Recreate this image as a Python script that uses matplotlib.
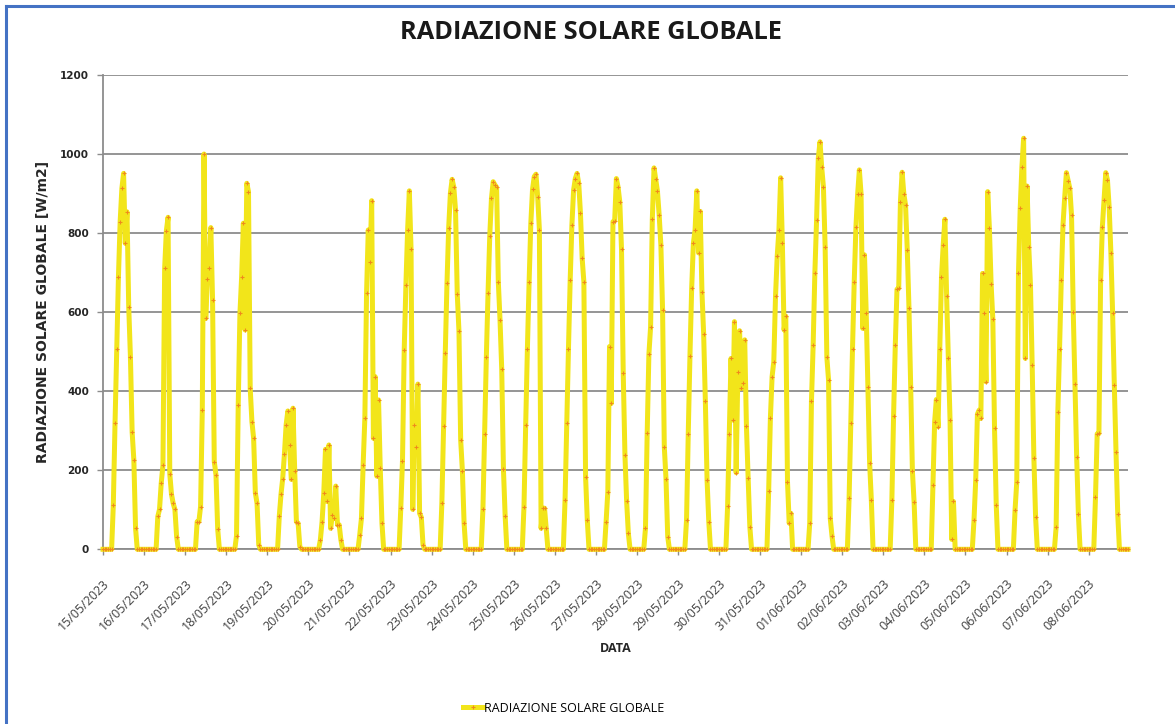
import matplotlib
matplotlib.use('Agg')
import matplotlib.pyplot as plt
from matplotlib.lines import Line2D
import numpy as np

title = 'RADIAZIONE SOLARE GLOBALE'

# date labels (one tick every 24 hourly readings)
dates = ['15/05/2023', '16/05/2023', '17/05/2023', '18/05/2023', '19/05/2023',
         '20/05/2023', '21/05/2023', '22/05/2023', '23/05/2023', '24/05/2023',
         '25/05/2023', '26/05/2023', '27/05/2023', '28/05/2023', '29/05/2023',
         '30/05/2023', '31/05/2023', '01/06/2023', '02/06/2023', '03/06/2023',
         '04/06/2023', '05/06/2023', '06/06/2023', '07/06/2023', '08/06/2023']

# hourly global radiation [W/m2], hours 0..23 of each day
d15_05 = [0, 0, 0, 0, 0, 0, 112, 319, 508, 690, 829, 913, 951, 774, 854, 614, 487, 297, 226, 53, 0, 0, 0, 0]
d16_05 = [0, 0, 0, 0, 0, 0, 0, 0, 83, 101, 167, 213, 711, 806, 840, 191, 139, 116, 101, 32, 0, 0, 0, 0]
d17_05 = [0, 0, 0, 0, 0, 0, 0, 70, 70, 108, 352, 1000, 584, 684, 712, 814, 631, 222, 188, 51, 0, 0, 0, 0]
d18_05 = [0, 0, 0, 0, 0, 0, 34, 365, 597, 690, 825, 555, 926, 905, 407, 323, 281, 143, 116, 11, 0, 0, 0, 0]
d19_05 = [0, 0, 0, 0, 0, 0, 0, 84, 139, 179, 241, 315, 350, 264, 177, 357, 199, 70, 66, 7, 0, 0, 0, 0]
d20_05 = [0, 0, 0, 0, 0, 0, 0, 24, 70, 143, 253, 121, 264, 53, 87, 78, 160, 62, 62, 24, 0, 0, 0, 0]
d21_05 = [0, 0, 0, 0, 0, 0, 36, 78, 213, 331, 648, 808, 728, 882, 281, 437, 185, 378, 205, 66, 0, 0, 0, 0]
d22_05 = [0, 0, 0, 0, 0, 0, 104, 224, 504, 669, 809, 907, 759, 101, 315, 260, 418, 91, 81, 11, 0, 0, 0, 0]
d23_05 = [0, 0, 0, 0, 0, 0, 116, 312, 497, 673, 814, 901, 936, 916, 858, 646, 552, 277, 199, 66, 0, 0, 0, 0]
d24_05 = [0, 0, 0, 0, 0, 0, 101, 292, 486, 649, 793, 888, 930, 922, 916, 677, 580, 455, 202, 84, 0, 0, 0, 0]
d25_05 = [0, 0, 0, 0, 0, 0, 108, 315, 508, 677, 825, 911, 943, 949, 892, 809, 53, 104, 104, 53, 0, 0, 0, 0]
d26_05 = [0, 0, 0, 0, 0, 0, 125, 319, 508, 681, 820, 909, 938, 951, 926, 850, 736, 677, 184, 74, 0, 0, 0, 0]
d27_05 = [0, 0, 0, 0, 0, 0, 70, 146, 513, 369, 829, 831, 938, 916, 879, 759, 447, 239, 121, 40, 0, 0, 0, 0]
d28_05 = [0, 0, 0, 0, 0, 53, 293, 493, 563, 835, 965, 936, 906, 846, 770, 605, 260, 178, 32, 0, 0, 0, 0, 0]
d29_05 = [0, 0, 0, 0, 0, 74, 292, 490, 660, 774, 809, 907, 750, 855, 652, 545, 374, 175, 70, 0, 0, 0, 0, 0]
d30_05 = [0, 0, 0, 0, 0, 109, 292, 483, 327, 576, 194, 448, 553, 407, 420, 530, 312, 180, 57, 0, 0, 0, 0, 0]
d31_05 = [0, 0, 0, 0, 0, 148, 331, 437, 475, 640, 742, 809, 940, 776, 555, 590, 171, 66, 91, 0, 0, 0, 0, 0]
d01_06 = [0, 0, 0, 0, 0, 66, 374, 517, 700, 833, 989, 1031, 966, 917, 765, 486, 428, 78, 34, 0, 0, 0, 0, 0]
d02_06 = [0, 0, 0, 0, 129, 319, 508, 677, 816, 899, 960, 899, 559, 745, 599, 411, 218, 125, 0, 0, 0, 0, 0, 0]
d03_06 = [0, 0, 0, 0, 0, 125, 338, 517, 658, 660, 879, 954, 899, 871, 757, 610, 411, 198, 119, 0, 0, 0, 0, 0]
d04_06 = [0, 0, 0, 0, 0, 163, 323, 379, 310, 508, 688, 770, 835, 641, 483, 327, 25, 121, 0, 0, 0, 0, 0, 0]
d05_06 = [0, 0, 0, 0, 0, 74, 175, 342, 352, 331, 698, 597, 424, 905, 812, 671, 582, 306, 112, 0, 0, 0, 0, 0]
d06_06 = [0, 0, 0, 0, 0, 100, 171, 700, 863, 968, 1040, 483, 919, 766, 669, 466, 230, 81, 0, 0, 0, 0, 0, 0]
d07_06 = [0, 0, 0, 0, 0, 56, 348, 508, 681, 820, 890, 953, 933, 913, 845, 601, 418, 234, 89, 0, 0, 0, 0, 0]
d08_06 = [0, 0, 0, 0, 132, 292, 293, 681, 815, 885, 953, 934, 865, 750, 599, 416, 245, 89, 0, 0, 0, 0, 0, 0]

days = [d15_05, d16_05, d17_05, d18_05, d19_05, d20_05, d21_05, d22_05, d23_05,
        d24_05, d25_05, d26_05, d27_05, d28_05, d29_05, d30_05, d31_05, d01_06,
        d02_06, d03_06, d04_06, d05_06, d06_06, d07_06, d08_06]
rad = np.concatenate(days)
idx = np.arange(len(rad))

line_col = '#F2E51A'
mark_col = '#F08A1C'
grid_col = '#8C8C8C'

fig = plt.figure(figsize=(11.75, 7.24), dpi=100)
ax = fig.add_axes([0.0877, 0.2413, 0.8723, 0.6551])

ax.plot(idx, rad, color=line_col, lw=3.6, marker='+', ms=2.5, mew=0.8,
        mec=mark_col, solid_joinstyle='round', clip_on=False, zorder=3)

ax.set_xlim(0, len(rad) - 1)
ax.set_ylim(0, 1200)
ax.set_yticks(np.arange(0, 1201, 200))
ax.set_xticks(np.arange(0, len(rad), 24))
ax.set_xticklabels(dates, rotation=45, ha='right', rotation_mode='anchor',
                   fontsize=9, color='#404040', family='Open Sans')
for lab in ax.get_yticklabels():
    lab.set_fontsize(7.5)
    lab.set_fontweight('bold')
    lab.set_color('#262626')

ax.grid(axis='y', color=grid_col, lw=1.3)
ax.set_axisbelow(True)
for s in ['top', 'right']:
    ax.spines[s].set_visible(False)
for s in ['left', 'bottom']:
    ax.spines[s].set_color(grid_col)
    ax.spines[s].set_linewidth(1.3)
ax.tick_params(axis='both', length=4, color=grid_col, width=1)
ax.tick_params(axis='x', pad=16)
ax.tick_params(axis='y', pad=6)

ax.set_ylabel('RADIAZIONE SOLARE GLOBALE [W/m2]', fontsize=10, fontweight='bold',
              color='#262626', labelpad=7)
ax.set_xlabel('DATA', fontsize=9, fontweight='bold', color='#262626',
              family='Open Sans', labelpad=6)

fig.text(0.503, 0.955, title, ha='center', va='center', fontsize=18.3,
         fontweight='bold', family='Open Sans', color='#1a1a1a')

handle = Line2D([], [], color=line_col, lw=3.6, marker='+', ms=2.5,
                mec=mark_col, mew=0.8)
fig.legend([handle], ['RADIAZIONE SOLARE GLOBALE'], loc='center',
           bbox_to_anchor=(0.48, 0.022), frameon=False, handlelength=1.6,
           handletextpad=0.1, prop={'family': 'Open Sans', 'size': 9})

# blue chart-area border (top and left visible in the screenshot)
fig.add_artist(Line2D([0.005, 0.005], [0, 0.992], color='#4472C4', lw=2.2,
                      transform=fig.transFigure))
fig.add_artist(Line2D([0.005, 1.0], [0.992, 0.992], color='#4472C4', lw=2.2,
                      transform=fig.transFigure))

fig.savefig('out.png', dpi=100)
